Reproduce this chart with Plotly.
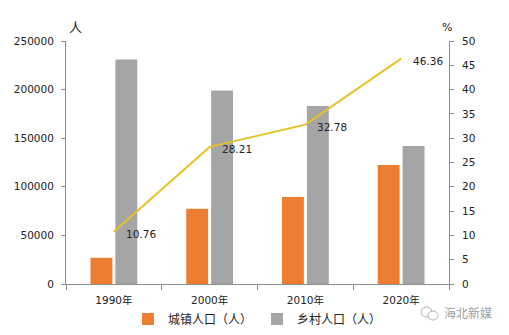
import plotly.graph_objects as go

years = ["1990年", "2000年", "2010年", "2020年"]
urban = [27000, 77500, 89500, 122500]
rural = [231000, 199000, 183000, 142000]
urban_rate = [10.76, 28.21, 32.78, 46.36]

FONT = "DejaVu Sans, Noto Sans CJK SC, sans-serif"
AXIS_GRAY = "#8c8c8c"

# plot-area geometry in pixels, used to place the watermark icon
L, R, T, B, W, H = 66, 60, 41, 51, 509, 335
PW, PH = W - L - R, H - T - B


def px(x):
    return (x - L) / PW


def py(y):
    return (H - B - y) / PH


fig = go.Figure()
fig.add_trace(go.Bar(x=years, y=urban, name="城镇人口（人）",
                     marker=dict(color="#ED7D31", line=dict(width=0))))
fig.add_trace(go.Bar(x=years, y=rural, name="乡村人口（人）",
                     marker=dict(color="#A5A5A5", line=dict(width=0))))
fig.add_trace(go.Scatter(x=years, y=urban_rate, yaxis="y2", mode="lines",
                         line=dict(color="#E6C229", width=2),
                         showlegend=False, cliponaxis=False))

annotations = [
    dict(x=yr, y=v, xref="x", yref="y2", text=f"{v:.2f}", showarrow=False,
         xanchor="left", yanchor="middle", xshift=10, yshift=-2,
         font=dict(size=10.5, color="#222"))
    for yr, v in zip(years, urban_rate)
]
annotations += [
    dict(text="人", xref="paper", yref="paper", x=0.0, y=1.0, xanchor="left",
         yanchor="bottom", yshift=4, xshift=1, showarrow=False,
         font=dict(size=13, color="#222")),
    dict(text="%", xref="paper", yref="paper", x=1.0, y=1.0, xanchor="center",
         yanchor="bottom", yshift=5, xshift=-2, showarrow=False,
         font=dict(size=11, color="#222")),
    dict(text="海北新媒", xref="paper", yref="paper", x=px(494), y=py(313),
         xanchor="right", yanchor="middle", showarrow=False,
         font=dict(size=12, color="#a0a0a0")),
]

shapes = [
    dict(type="circle", xref="paper", yref="paper",
         x0=px(421), x1=px(432), y0=py(317), y1=py(307),
         line=dict(color="#b0b0b0", width=1)),
    dict(type="circle", xref="paper", yref="paper",
         x0=px(428), x1=px(438), y0=py(320), y1=py(311),
         line=dict(color="#b0b0b0", width=1), fillcolor="white"),
]

fig.update_layout(
    width=W, height=H,
    margin=dict(l=L, r=R, t=T, b=B, autoexpand=False),
    paper_bgcolor="white", plot_bgcolor="white",
    barmode="group", bargap=0.48, bargroupgap=0.12,
    font=dict(family=FONT, size=10.5, color="#222"),
    xaxis=dict(type="category", showline=True, linecolor=AXIS_GRAY, linewidth=1,
               ticks="outside", tickson="boundaries", ticklen=5, tickcolor=AXIS_GRAY,
               showgrid=False, ticklabelstandoff=6),
    yaxis=dict(range=[0, 250000], dtick=50000, showline=True, linecolor=AXIS_GRAY,
               ticks="outside", ticklen=4, tickcolor=AXIS_GRAY, showgrid=False,
               zeroline=False, tickformat="d", ticklabelstandoff=5),
    yaxis2=dict(range=[0, 50], dtick=5, overlaying="y", side="right", showline=True,
                linecolor=AXIS_GRAY, ticks="outside", ticklen=4, tickcolor=AXIS_GRAY,
                showgrid=False, zeroline=False, ticklabelstandoff=6),
    legend=dict(orientation="h", x=0.5, xanchor="center", yref="container",
                y=(H - 319) / H, yanchor="middle",
                font=dict(size=12), itemwidth=30, traceorder="normal"),
    annotations=annotations,
    shapes=shapes,
)

fig.write_html("out.html")
